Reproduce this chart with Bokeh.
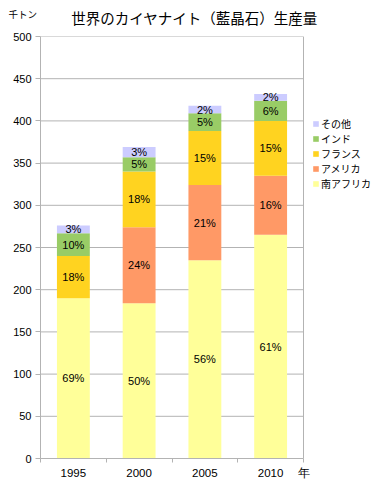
from bokeh.plotting import figure
from bokeh.models import ColumnDataSource, FixedTicker, Legend, LegendItem, Label, Range1d
from bokeh.core.properties import value
from bokeh.embed import file_html
from bokeh.resources import INLINE

# ---- data ----
years = ["1995", "2000", "2005", "2010"]
series = ["南アフリカ", "アメリカ", "フランス", "インド", "その他"]
south_africa = [190, 184, 235, 265]
usa = [0, 90, 89, 70]
france = [50, 66, 64, 65]
india = [27, 17, 21, 24]
others = [9, 12, 9, 8]
y_ticks = [0, 50, 100, 150, 200, 250, 300, 350, 400, 450, 500]
title_text = "世界のカイヤナイト（藍晶石）生産量"
unit_text = "千トン"
year_unit = "年"

colors = ["#FFFF99", "#FF9966", "#FFD320", "#99CC66", "#CCCCFF"]
keys = ["sa", "us", "fr", "in", "ot"]
values = [south_africa, usa, france, india, others]

CJK = "Noto Sans CJK JP"
LAT = "Liberation Sans"
GRAY = "#b3b3b3"

n = len(years)
ymax = y_ticks[-1]
xc = [i + 0.5 for i in range(n)]
data = {"x": xc}
for k, v in zip(keys, values):
    data[k] = v
source = ColumnDataSource(data)

# frame spans from the y axis to the right edge; the plot area is x in [0, n]
p = figure(width=371, height=481, output_backend="svg", toolbar_location=None, title=None,
           x_range=Range1d(0, n * 331 / 263), y_range=Range1d(0, ymax),
           min_border_left=40, min_border_right=0, min_border_top=36, min_border_bottom=21)
p.background_fill_color = "white"
p.border_fill_color = "white"
p.outline_line_color = None
p.xgrid.visible = False
p.ygrid.visible = False

# grid lines and right border of the plot area
p.segment(x0=[0] * len(y_ticks), x1=[n] * len(y_ticks), y0=y_ticks, y1=y_ticks,
          line_color=GRAY, line_width=1)
p.segment(x0=[n], x1=[n], y0=[0], y1=[ymax], line_color=GRAY, line_width=1)

rs = p.vbar_stack(keys, x="x", width=0.5, source=source, fill_color=colors, line_color=None)

# percentage labels
tx, ty, tt = [], [], []
for i in range(n):
    total = sum(v[i] for v in values)
    base = 0
    for v in values:
        if v[i] > 0:
            tx.append(xc[i])
            ty.append(base + v[i] / 2)
            tt.append(f"{round(v[i] / total * 100)}%")
        base += v[i]
p.text(x=tx, y=ty, text=tt, text_font=value(LAT), text_font_size="11px",
       text_align="center", text_baseline="middle", text_color="black")

# axes
p.yaxis.ticker = FixedTicker(ticks=y_ticks)
p.yaxis.bounds = (0, ymax)
p.yaxis.axis_line_color = GRAY
p.yaxis.major_tick_line_color = GRAY
p.yaxis.major_tick_in = 0
p.yaxis.major_tick_out = 5
p.yaxis.minor_tick_line_color = None
p.yaxis.major_label_text_font = LAT
p.yaxis.major_label_text_font_size = "11px"
p.yaxis.major_label_text_color = "black"
p.yaxis.major_label_standoff = 4

x_label_pos = xc + [n]
x_label_txt = years + [year_unit]
p.xaxis.ticker = FixedTicker(ticks=x_label_pos, minor_ticks=list(range(n + 1)))
p.xaxis.bounds = (0, n)
p.xaxis.major_label_overrides = {x: t for x, t in zip(x_label_pos, x_label_txt)}
p.xaxis.axis_line_color = GRAY
p.xaxis.major_tick_line_color = None
p.xaxis.major_tick_in = 0
p.xaxis.major_tick_out = 0
p.xaxis.minor_tick_line_color = GRAY
p.xaxis.minor_tick_in = 0
p.xaxis.minor_tick_out = 4
p.xaxis.major_label_text_font = LAT
p.xaxis.major_label_text_font_size = "11.5px"
p.xaxis.major_label_text_color = "black"
p.xaxis.major_label_standoff = 4

# legend, right of the plot area (location = offset of its bottom-left corner)
items = [LegendItem(label=s, renderers=[r]) for s, r in zip(series, rs)][::-1]
legend = Legend(items=items, location=(272, 267), padding=0, margin=0,
                border_line_color=None, background_fill_alpha=0,
                glyph_width=7, glyph_height=7, label_height=14, spacing=0,
                label_standoff=2, label_text_font=CJK, label_text_font_size="10px",
                label_text_color="black")
p.add_layout(legend)

# title and unit label above the plot area
p.add_layout(Label(x=2.342, y=523.0, text=title_text, text_font=CJK, text_font_size="14.5px",
                   text_align="center", text_baseline="middle", text_color="black"), "above")
p.add_layout(Label(x=-0.487, y=527.0, text=unit_text, text_font=CJK, text_font_size="9.5px",
                   text_align="left", text_baseline="middle", text_color="black"), "above")

open("out.html", "w").write(file_html(p, INLINE))
